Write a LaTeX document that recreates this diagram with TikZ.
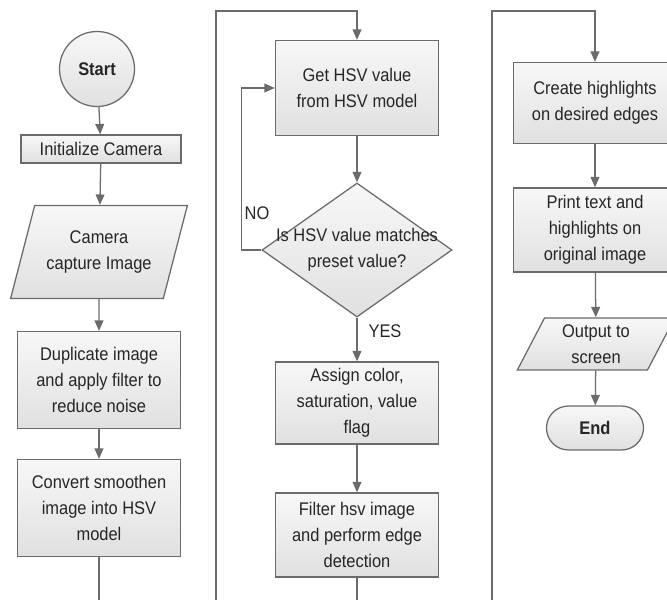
\documentclass[tikz,border=0pt]{standalone}
\usepackage{fontspec}
\setmainfont{Liberation Sans}[FakeStretch=0.9]
\usetikzlibrary{shapes.geometric, arrows.meta}

\begin{document}
\begin{tikzpicture}[
    x=0.025cm, y=-0.025cm,
    every node/.style={font=\fontsize{13}{18.5}\selectfont, text=black!85},
    line/.style={draw=black!58, line width=0.9pt},
    arr/.style={line, -{Triangle[length=0.26cm, width=0.22cm]}},
    shade/.style={draw=black!58, line width=0.9pt, top color=black!3, bottom color=black!12},
    proc/.style={shade, rectangle, minimum width=4.075cm, align=center, inner sep=2pt},
    io/.style={shade, trapezium, trapezium left angle=66, trapezium right angle=114,
      trapezium stretches=true, align=center, inner sep=1pt},
    decision/.style={shade, diamond, minimum width=4.75cm, minimum height=3.35cm, inner sep=0pt},
    term/.style={shade, rectangle, rounded corners=0.55cm, minimum width=2.425cm,
      minimum height=1.1cm, font=\fontsize{13}{18.5}\selectfont\bfseries},
  ]
    \useasboundingbox (0, 0) rectangle (667, 600);

    % first column
    \node[shade, circle, minimum size=1.875cm, font=\fontsize{13}{18.5}\selectfont\bfseries] (start) at (97, 69) {Start};
    \node[proc, minimum width=4cm, minimum height=0.7cm] (init) at (101, 149) {Initialize Camera};
    \node[io, minimum width=4.425cm, minimum height=2.325cm] (cam) at (99, 252) {Camera\\capture Image};
    \node[proc, minimum height=2.425cm] (dup) at (99, 380) {Duplicate image\\and apply filter to\\reduce noise};
    \node[proc, minimum height=2.425cm] (conv) at (99, 508) {Convert smoothen\\image into HSV\\model};

    % second column
    \node[proc, minimum height=2.375cm] (hsv) at (357, 88) {Get HSV value\\from HSV model};
    \node[decision] (chk) at (357, 250) {};
    \node[align=center] (chktxt) at (357, 250) {Is HSV value matches\\preset value?};
    \node[proc, minimum height=2.05cm] (assign) at (357, 403) {Assign color,\\saturation, value\\flag};
    \node[proc, minimum height=2.1cm] (filt) at (357, 535) {Filter hsv image\\and perform edge\\detection};

    % third column
    \node[proc, minimum height=2.025cm] (hl) at (595, 103) {Create highlights\\on desired edges};
    \node[proc, minimum height=2.1cm] (prt) at (595, 230) {Print text and\\highlights on\\original image};
    \node[io, minimum width=3.95cm, minimum height=1.3cm] (out) at (596, 344) {Output to\\screen};
    \node[term] (end) at (595, 428) {End};

    % labels
    \node (no) at (257, 213) {NO};
    \node (yes) at (385, 331) {YES};

    % jump points at the page edges
    \coordinate (c1b) at (99, 600);
    \coordinate (j1b) at (216, 600);
    \coordinate (j1t) at (216, 11);
    \coordinate (c2b) at (357, 600);
    \coordinate (j2b) at (492, 600);
    \coordinate (j2t) at (492, 11);

    % connectors
    \draw[arr] (start) -- (init);
    \draw[arr] (init) -- (cam);
    \draw[arr] (cam) -- (dup);
    \draw[arr] (dup) -- (conv);
    \draw[line] (conv) -- (c1b);
    \draw[arr] (j1b) -- (j1t) -| (hsv);
    \draw[arr] (hsv) -- (chk);
    \draw[arr] (chk.west) -- ++(-20, 0) |- (hsv.west);
    \draw[arr] (chk) -- (assign);
    \draw[arr] (assign) -- (filt);
    \draw[line] (filt) -- (c2b);
    \draw[arr] (j2b) -- (j2t) -| (hl);
    \draw[arr] (hl) -- (prt);
    \draw[arr] (prt) -- (out);
    \draw[arr] (out) -- (end);
  \end{tikzpicture}
\end{document}
